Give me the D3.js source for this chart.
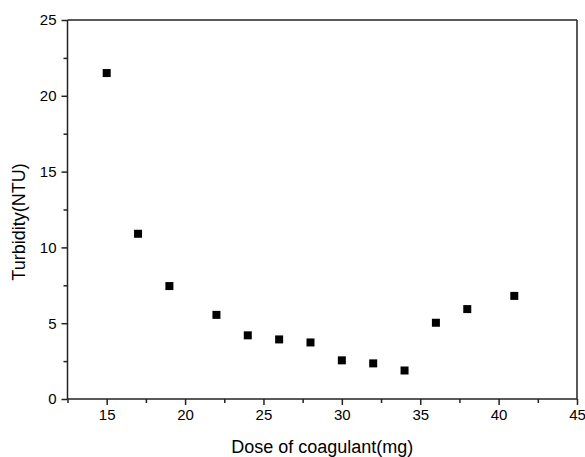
<!DOCTYPE html>
<html><head><meta charset="utf-8">
<script src="https://cdn.jsdelivr.net/npm/d3@7"></script>
<style>body{margin:0;background:#fff}svg{display:block}text{font-family:"Liberation Sans",Arial,sans-serif;fill:#000}</style>
</head><body>
<script>
const doses = [15, 17, 19, 22, 24, 26, 28, 30, 32, 34, 36, 38, 41];
const turbidity = [21.5, 10.9, 7.45, 5.55, 4.2, 3.93, 3.73, 2.55, 2.35, 1.88, 5.03, 5.93, 6.8];
const xTicks = [15, 20, 25, 30, 35, 40, 45];
const yTicks = [0, 5, 10, 15, 20, 25];
const xTitle = "Dose of coagulant(mg)";
const yTitle = "Turbidity(NTU)";

const W = 585, H = 457;
const m = {left: 67.5, right: 8, top: 20, bottom: 58};
const svg = d3.select("body").append("svg").attr("width", W).attr("height", H);
const x = d3.scaleLinear().domain([12.5, 45]).range([m.left, W - m.right]);
const y = d3.scaleLinear().domain([0, 25]).range([H - m.bottom, m.top]);
const axisColor = "#222";

// minor ticks
const xMinor = d3.range(12.5, 45.01, 2.5).filter(v => !xTicks.includes(v));
const yMinor = d3.range(2.5, 25, 5);

const gx = svg.append("g").attr("transform", `translate(0,${y(0)})`)
  .call(d3.axisBottom(x).tickValues(xTicks).tickSize(6).tickPadding(4).tickFormat(d3.format("d")));
gx.selectAll(".tick text").attr("font-size", 15);
svg.append("g").attr("transform", `translate(0,${y(0)})`)
  .call(d3.axisBottom(x).tickValues(xMinor).tickSize(4).tickFormat(""))
  .select(".domain").remove();

const gy = svg.append("g").attr("transform", `translate(${x(12.5)},0)`)
  .call(d3.axisLeft(y).tickValues(yTicks).tickSize(6).tickPadding(5).tickFormat(d3.format("d")));
gy.selectAll(".tick text").attr("font-size", 15);
svg.append("g").attr("transform", `translate(${x(12.5)},0)`)
  .call(d3.axisLeft(y).tickValues(yMinor).tickSize(4).tickFormat(""))
  .select(".domain").remove();

svg.selectAll(".domain, .tick line").attr("stroke", axisColor).attr("stroke-width", 1.5);
svg.selectAll(".domain").each(function(){ d3.select(this).attr("d", d3.select(this).attr("d").replace(/V-?\d+(\.\d+)?|H-?\d+(\.\d+)?/g, m => m)); });

// frame top and right
svg.append("line").attr("x1", x(12.5)).attr("x2", x(45)).attr("y1", y(25)).attr("y2", y(25))
  .attr("stroke", axisColor).attr("stroke-width", 1.5);
svg.append("line").attr("x1", x(45)).attr("x2", x(45)).attr("y1", y(25)).attr("y2", y(0))
  .attr("stroke", axisColor).attr("stroke-width", 1.5);
gx.select(".domain").attr("d", `M${x(12.5)},0H${x(45)}`);
gy.select(".domain").attr("d", `M0,${y(0)}V${y(25)}`);

const s = 8;
svg.append("g").selectAll("rect").data(doses).join("rect")
  .attr("x", (d) => x(d) - s/2)
  .attr("y", (d, i) => y(turbidity[i]) - s/2)
  .attr("width", s).attr("height", s).attr("fill", "#000");

svg.append("text").attr("x", (x(12.5) + x(45)) / 2).attr("y", 453)
  .attr("text-anchor", "middle").attr("font-size", 18).text(xTitle);
svg.append("text").attr("transform", `translate(25,${222}) rotate(-90)`)
  .attr("text-anchor", "middle").attr("font-size", 18).text(yTitle);
</script>
</body></html>
